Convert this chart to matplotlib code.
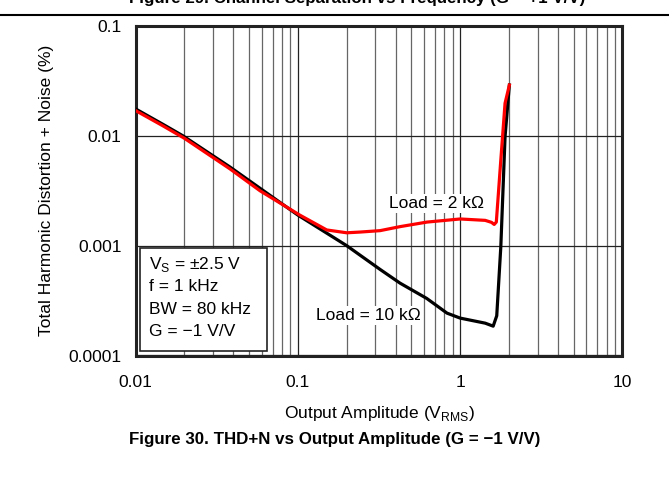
import matplotlib
matplotlib.use("Agg")
import matplotlib.pyplot as plt
from matplotlib.ticker import LogLocator, NullFormatter, FixedLocator
from matplotlib.patches import Rectangle

plt.rcParams['font.family'] = ['Liberation Sans', 'DejaVu Sans']
plt.rcParams['mathtext.fontset'] = 'custom'
plt.rcParams['mathtext.rm'] = 'Liberation Sans'

# ---- data ----
x_10k = [0.01, 0.0148, 0.0196, 0.0382, 0.0585, 0.1, 0.2, 0.2415, 0.321, 0.426,
         0.622, 0.83, 1.0, 1.426, 1.597, 1.68, 1.78, 1.89, 2.01]
y_10k = [0.0176, 0.0127, 0.0100, 0.0052, 0.00333, 0.0019, 0.00100, 0.00082,
         0.000608, 0.000456, 0.000331, 0.000243, 0.000219, 0.000197, 0.000185,
         0.00023, 0.00098, 0.0098, 0.029]

x_2k = [0.01, 0.0148, 0.02, 0.0382, 0.0585, 0.1027, 0.1507, 0.2, 0.2415, 0.321,
        0.426, 0.625, 1.0, 1.326, 1.426, 1.56, 1.62, 1.67, 1.78, 1.89, 2.01]
y_2k = [0.0170, 0.0123, 0.0095, 0.0050, 0.00316, 0.0019, 0.00139, 0.00131,
        0.00133, 0.00137, 0.00149, 0.00164, 0.00175, 0.00171, 0.00170, 0.00163,
        0.00156, 0.00164, 0.00603, 0.0198, 0.029]

x_ticks = [0.01, 0.1, 1, 10]
x_tick_labels = ['0.01', '0.1', '1', '10']
y_ticks = [0.0001, 0.001, 0.01, 0.1]
y_tick_labels = ['0.0001', '0.001', '0.01', '0.1']

cond_lines = [r'V$_\mathregular{S}$ = ±2.5 V', 'f = 1 kHz', 'BW = 80 kHz', 'G = −1 V/V']

fig = plt.figure(figsize=(6.69, 4.98), dpi=100)
ax = fig.add_axes([135.5/669, (498-355.5)/498, 487/669, 329.5/498])
ax.set_xscale('log')
ax.set_yscale('log')
ax.set_xlim(0.01, 10)
ax.set_ylim(0.0001, 0.1)

# grid
ax.xaxis.set_major_locator(FixedLocator(x_ticks))
ax.xaxis.set_minor_locator(LogLocator(base=10, subs=range(2, 10)))
ax.xaxis.set_minor_formatter(NullFormatter())
ax.yaxis.set_major_locator(FixedLocator(y_ticks))
ax.yaxis.set_minor_locator(FixedLocator([]))
ax.set_xticklabels(x_tick_labels)
ax.set_yticklabels(y_tick_labels)
ax.grid(True, which='major', axis='both', color='#222222', lw=0.9)
ax.grid(True, which='minor', axis='x', color='#666666', lw=0.9)
ax.tick_params(which='both', length=0, labelsize=12.5)
ax.tick_params(axis='x', pad=14)
ax.tick_params(axis='y', pad=10)

for s in ax.spines.values():
    s.set_linewidth(2.2)
    s.set_color('#222222')

ax.plot(x_10k, y_10k, color='black', lw=2.3, solid_joinstyle='round', zorder=3)
ax.plot(x_2k, y_2k, color='#ff0000', lw=2.3, solid_joinstyle='round', zorder=4)

ax.text(0.710, 0.00244, 'Load = 2 kΩ', fontsize=12.5, ha='center', va='center',
        bbox=dict(facecolor='white', edgecolor='none', pad=1.5), zorder=5)
ax.text(0.2726, 0.000233, 'Load = 10 kΩ', fontsize=12.5, ha='center', va='center',
        bbox=dict(facecolor='white', edgecolor='none', pad=1.5), zorder=5)

# conditions box
ax.add_patch(Rectangle((0.0092, 0.0137), 0.261, 0.312, transform=ax.transAxes,
                       facecolor='white', edgecolor='#222222', lw=1.2, zorder=6))
y0 = 0.275
for i, t in enumerate(cond_lines):
    ax.text(0.027, y0 - i*0.067, t, transform=ax.transAxes, fontsize=12.5,
            ha='left', va='center', zorder=7)

ax.set_xlabel(r'Output Amplitude (V$_\mathregular{RMS}$)', fontsize=12.5, labelpad=10)
ax.set_ylabel('Total Harmonic Distortion + Noise (%)', fontsize=12.5, labelpad=10.5)

fig.text(0.5, 1 - 439/498, 'Figure 30. THD+N vs Output Amplitude (G = −1 V/V)',
         fontsize=12.2, fontweight='bold', ha='center', va='center')
# cut-off previous caption and rule at top
fig.text(357/669, 1 - 3.5/498, 'Figure 29. Channel Separation vs Frequency (G = +1 V/V)',
         fontsize=12.2, fontweight='bold', ha='center', va='baseline')
fig.add_artist(plt.Line2D([0, 1], [1 - 15/498, 1 - 15/498], color='black', lw=1.5,
                          transform=fig.transFigure))

fig.savefig('out.png', dpi=100)
